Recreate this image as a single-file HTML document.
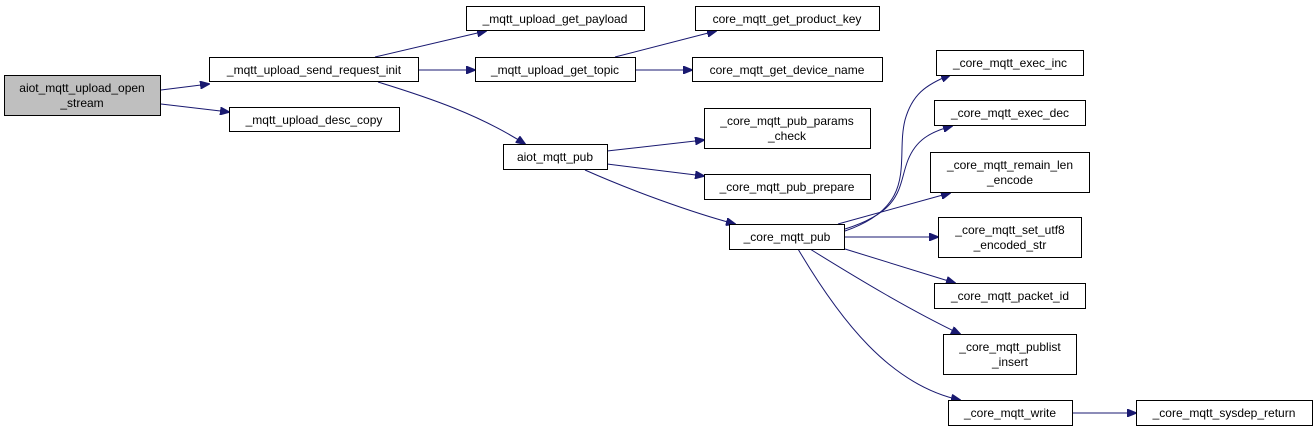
<!DOCTYPE html>
<html><head><meta charset="utf-8"><style>
html,body{margin:0;padding:0;background:#fff;}
svg{display:block;}
text{font-family:"Liberation Sans",sans-serif;font-size:12px;fill:#000;}
rect{fill:#fff;stroke:#000;stroke-width:1;}
path{fill:none;stroke:#191970;stroke-width:1;}
</style></head><body>
<svg width="1316" height="432" viewBox="0 0 1316 432" xmlns="http://www.w3.org/2000/svg">
<defs><marker id="a" markerWidth="10" markerHeight="8" refX="9" refY="4" orient="auto" markerUnits="userSpaceOnUse"><polygon points="0,0 10,4 0,8" fill="#191970" stroke="#191970"/></marker></defs>
<g marker-end="url(#a)">
<path d="M161,90 L209,84"/>
<path d="M161,104 L229,112"/>
<path d="M375,57 L486,31"/>
<path d="M419,70 L475,70"/>
<path d="M378,82 C430,98 480,115 525,144"/>
<path d="M615,57 L716,31"/>
<path d="M636,70 L692,70"/>
<path d="M607,151 L704,140"/>
<path d="M607,164 L704,176"/>
<path d="M585,170 C630,190 690,212 735,224"/>
<path d="M845,231 C920,205 895,160 905,120 C912,95 925,85 950,75"/>
<path d="M845,229 C905,210 898,185 908,160 C916,140 930,132 952,126"/>
<path d="M838,224 L950,193"/>
<path d="M844,237 L938,237"/>
<path d="M845,249 L955,283"/>
<path d="M810,249 C860,280 910,310 960,334"/>
<path d="M798,249 C840,320 890,385 960,400"/>
<path d="M1072,413 L1136,413"/>
</g>
<rect x="4.5" y="75.5" width="156" height="40" style="fill:#bfbfbf"/>
<text x="82" y="92" text-anchor="middle">aiot_mqtt_upload_open</text>
<text x="82" y="107" text-anchor="middle">_stream</text>
<rect x="209.5" y="57.5" width="209" height="24"/><text x="314" y="74" text-anchor="middle">_mqtt_upload_send_request_init</text>
<rect x="229.5" y="107.5" width="170" height="24"/><text x="314" y="124" text-anchor="middle">_mqtt_upload_desc_copy</text>
<rect x="466.5" y="6.5" width="178" height="24"/><text x="555" y="23" text-anchor="middle">_mqtt_upload_get_payload</text>
<rect x="475.5" y="57.5" width="160" height="24"/><text x="555" y="74" text-anchor="middle">_mqtt_upload_get_topic</text>
<rect x="503.5" y="144.5" width="104" height="25"/><text x="555" y="161" text-anchor="middle">aiot_mqtt_pub</text>
<rect x="695.5" y="6.5" width="184" height="24"/><text x="787" y="23" text-anchor="middle">core_mqtt_get_product_key</text>
<rect x="692.5" y="57.5" width="190" height="24"/><text x="787" y="74" text-anchor="middle">core_mqtt_get_device_name</text>
<rect x="704.5" y="108.5" width="166" height="40"/><text x="787" y="125" text-anchor="middle">_core_mqtt_pub_params</text><text x="787" y="140" text-anchor="middle">_check</text>
<rect x="704.5" y="174.5" width="166" height="25"/><text x="787" y="191" text-anchor="middle">_core_mqtt_pub_prepare</text>
<rect x="729.5" y="224.5" width="115" height="25"/><text x="787" y="241" text-anchor="middle">_core_mqtt_pub</text>
<rect x="936.5" y="50.5" width="147" height="25"/><text x="1010" y="67" text-anchor="middle">_core_mqtt_exec_inc</text>
<rect x="934.5" y="100.5" width="151" height="25"/><text x="1010" y="117" text-anchor="middle">_core_mqtt_exec_dec</text>
<rect x="930.5" y="152.5" width="159" height="40"/><text x="1010" y="169" text-anchor="middle">_core_mqtt_remain_len</text><text x="1010" y="184" text-anchor="middle">_encode</text>
<rect x="938.5" y="217.5" width="143" height="40"/><text x="1010" y="234" text-anchor="middle">_core_mqtt_set_utf8</text><text x="1010" y="249" text-anchor="middle">_encoded_str</text>
<rect x="934.5" y="283.5" width="151" height="25"/><text x="1010" y="300" text-anchor="middle">_core_mqtt_packet_id</text>
<rect x="943.5" y="334.5" width="133" height="40"/><text x="1010" y="351" text-anchor="middle">_core_mqtt_publist</text><text x="1010" y="366" text-anchor="middle">_insert</text>
<rect x="948.5" y="400.5" width="124" height="25"/><text x="1010" y="417" text-anchor="middle">_core_mqtt_write</text>
<rect x="1136.5" y="400.5" width="176" height="25"/><text x="1224" y="417" text-anchor="middle">_core_mqtt_sysdep_return</text>
</svg>
</body></html>
